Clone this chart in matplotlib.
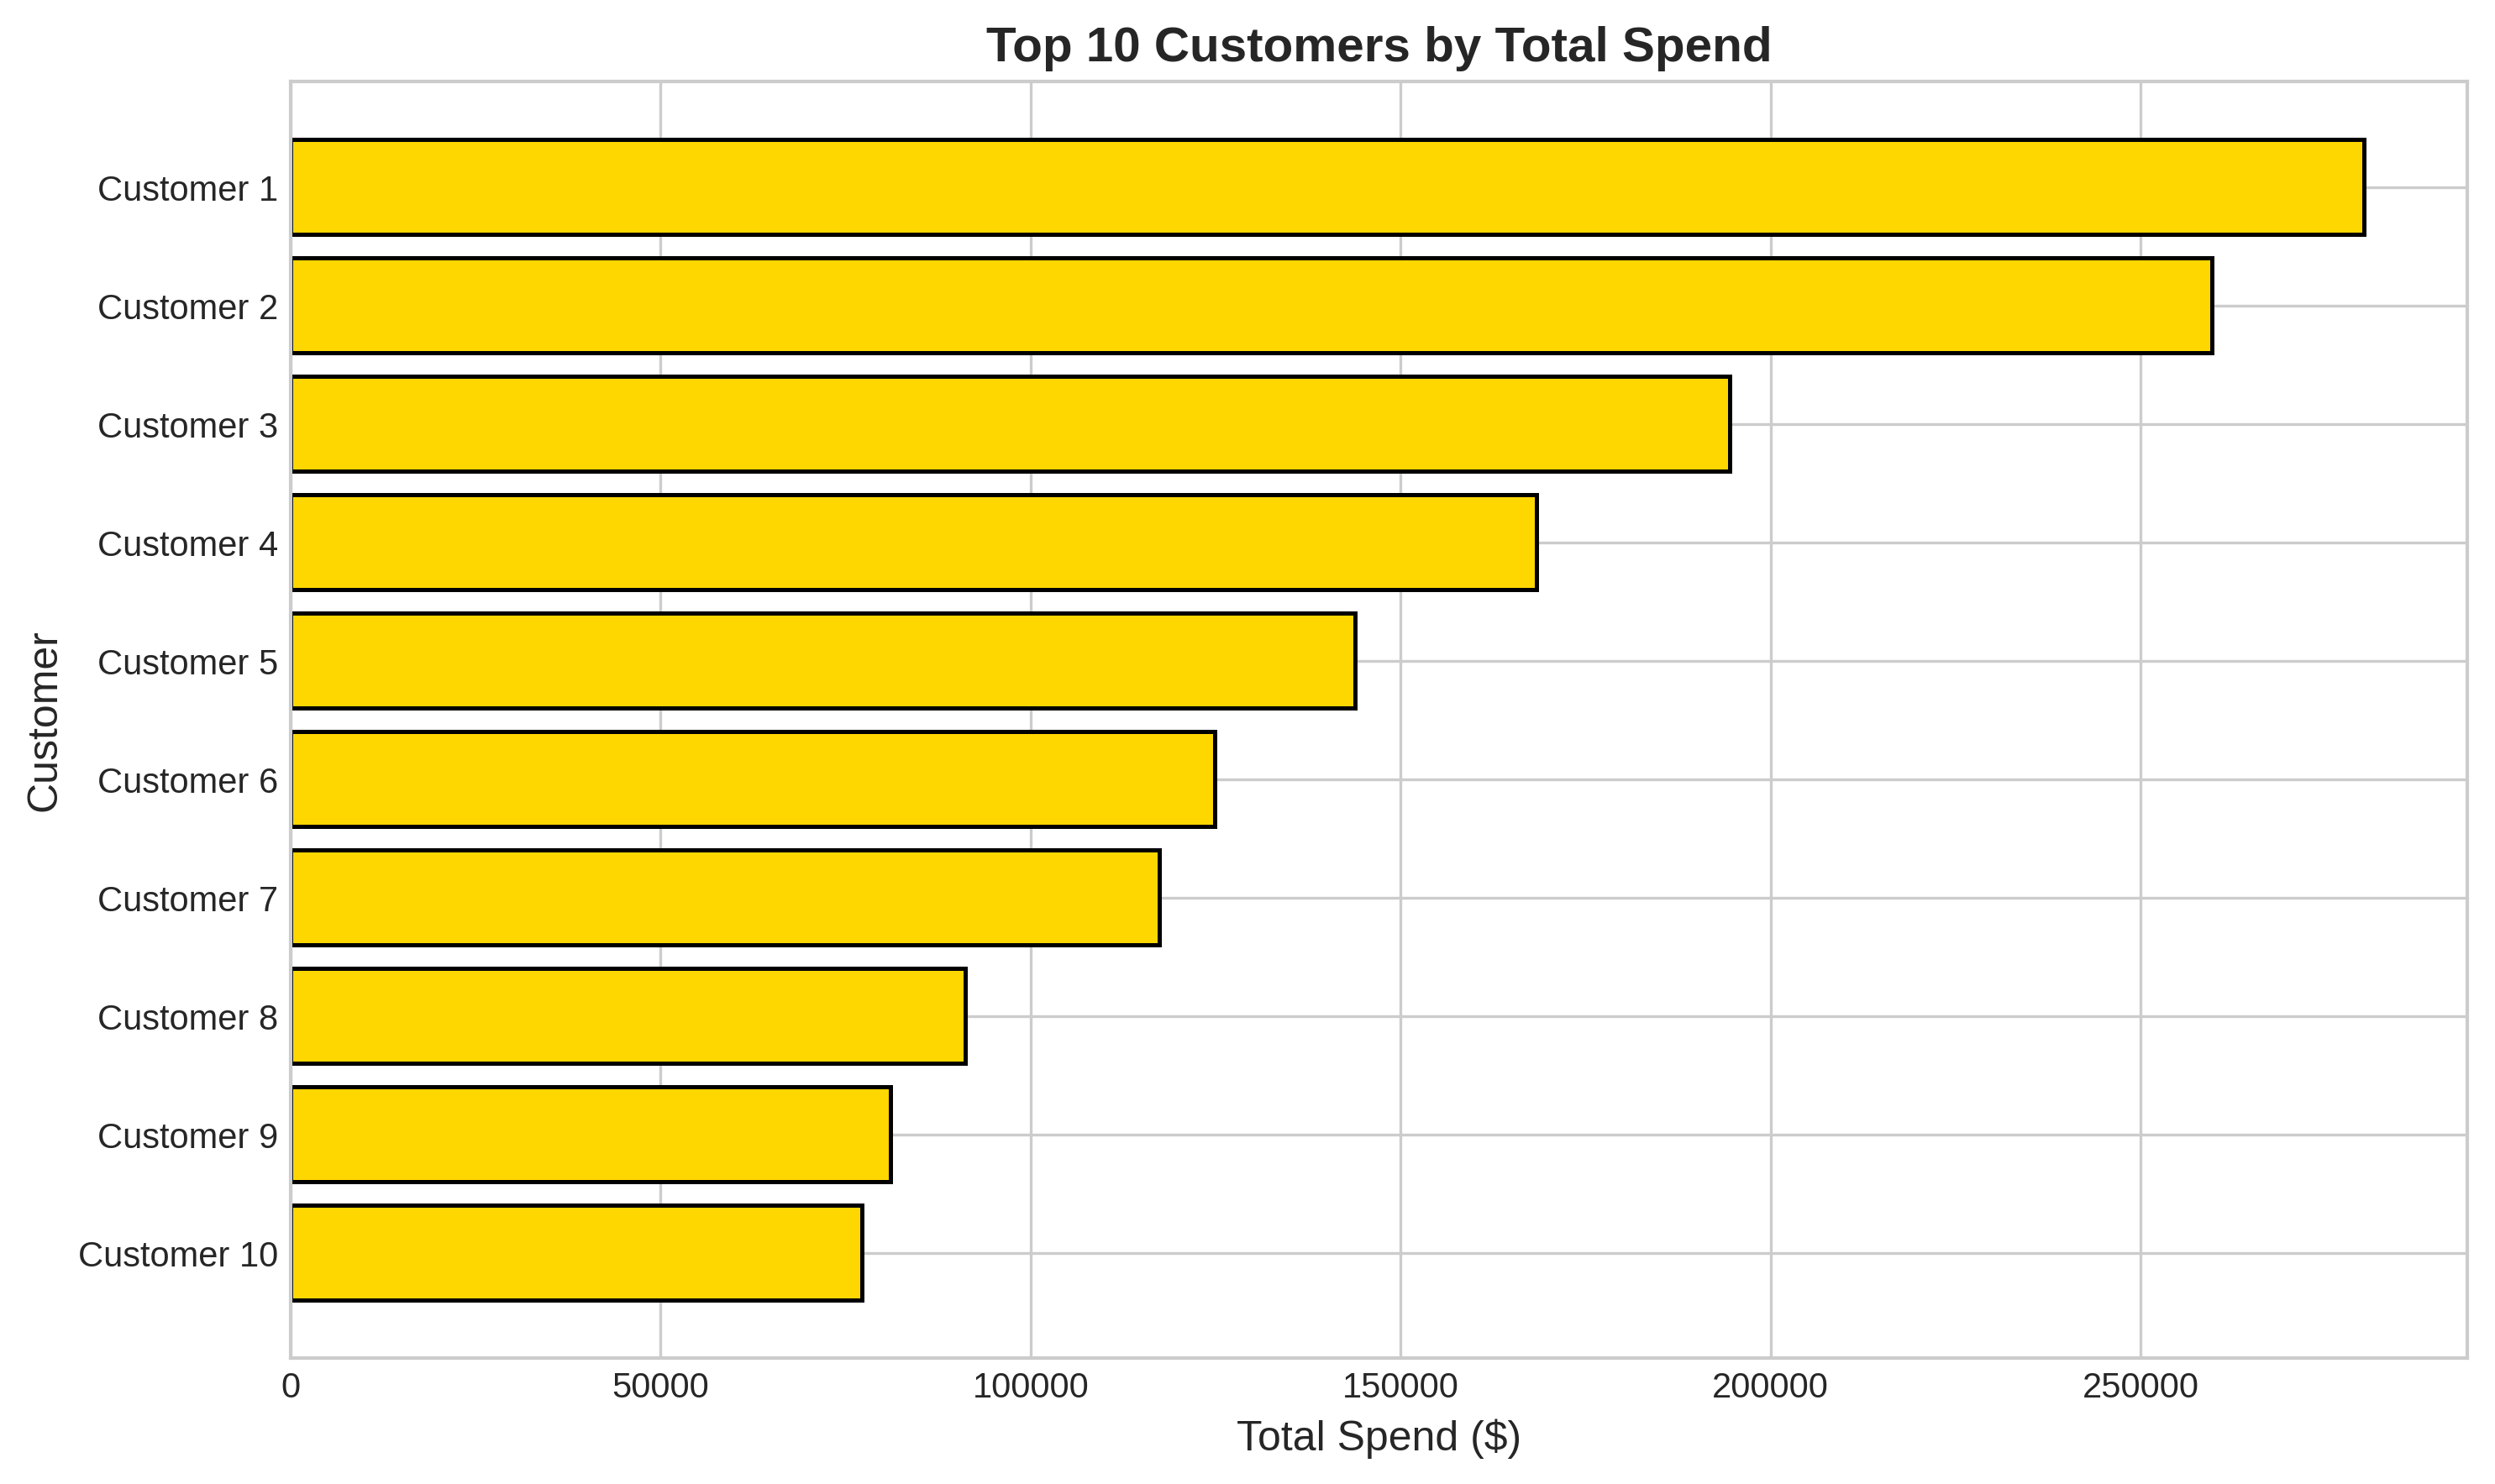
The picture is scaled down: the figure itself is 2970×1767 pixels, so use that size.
import matplotlib.pyplot as plt

customers = ["Customer 1", "Customer 2", "Customer 3", "Customer 4", "Customer 5",
             "Customer 6", "Customer 7", "Customer 8", "Customer 9", "Customer 10"]
total_spend = [280200, 259700, 194500, 168400, 143900, 124900, 117400, 91200, 81100, 77200]

plt.style.use("seaborn-v0_8-whitegrid")
plt.rcParams["font.family"] = ["Liberation Sans", "DejaVu Sans"]

fig, ax = plt.subplots(figsize=(9.9, 5.893), dpi=300)
ax.barh(customers, total_spend, color="gold", edgecolor="black", linewidth=1.2, height=0.8)
ax.invert_yaxis()

ax.set_title("Top 10 Customers by Total Spend", fontsize=14, fontweight="bold")
ax.set_xlabel("Total Spend ($)", fontsize=12)
ax.set_ylabel("Customer", fontsize=12)
ax.tick_params(labelsize=10)
for s in ax.spines.values():
    s.set_visible(True)
    s.set_color("#cccccc")

fig.subplots_adjust(left=0.1165, right=0.989, top=0.9446, bottom=0.0848)
fig.savefig("out.png", dpi=300)
